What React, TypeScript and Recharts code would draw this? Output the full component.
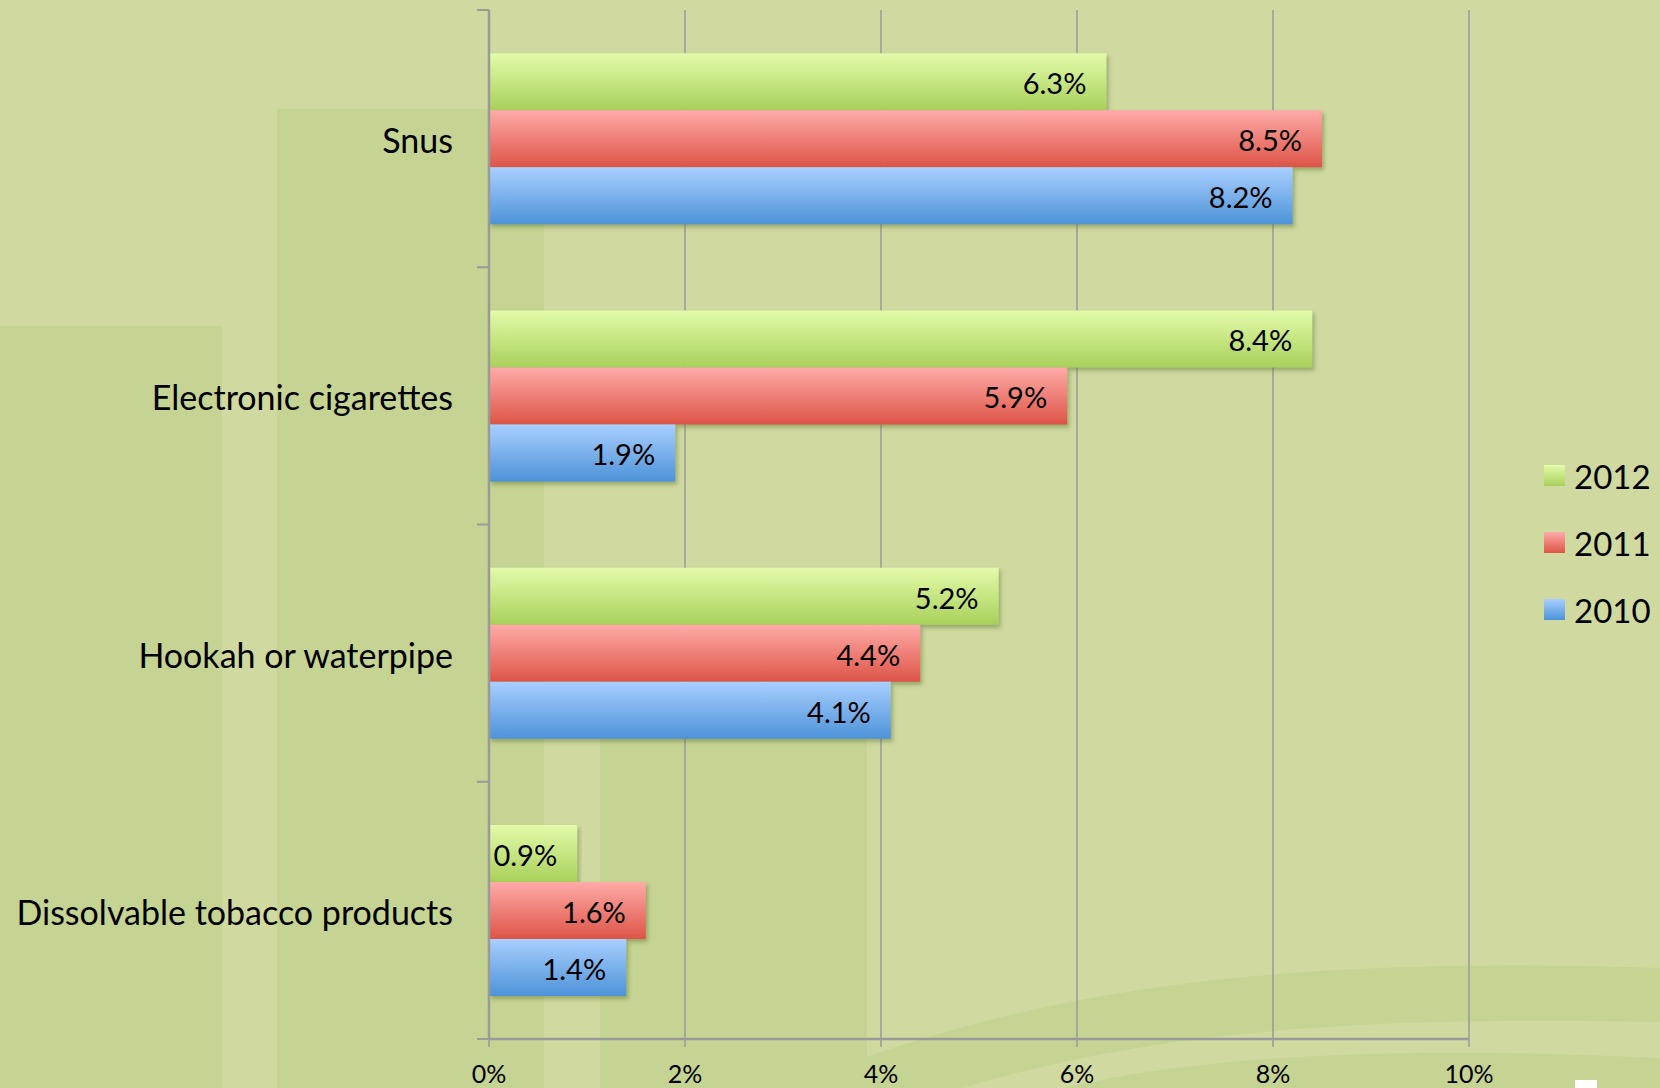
import React from 'react';
import {
  BarChart,
  Bar,
  XAxis,
  YAxis,
  CartesianGrid,
  LabelList,
} from 'recharts';

const categories = ['Snus', 'Electronic cigarettes', 'Hookah or waterpipe', 'Dissolvable tobacco products'];
const y2012 = [6.3, 8.4, 5.2, 0.9];
const y2011 = [8.5, 5.9, 4.4, 1.6];
const y2010 = [8.2, 1.9, 4.1, 1.4];
const xTicks = [0, 2, 4, 6, 8, 10];

const series = [
  { key: 'y2012', name: '2012', grad: 'gGreen', top: '#e3fbaa', bottom: '#a9d05b' },
  { key: 'y2011', name: '2011', grad: 'gRed', top: '#ffaba8', bottom: '#dd5447' },
  { key: 'y2010', name: '2010', grad: 'gBlue', top: '#a9cfff', bottom: '#4d93d8' },
];

const data = categories.map((c, i) => ({ cat: c, y2012: y2012[i], y2011: y2011[i], y2010: y2010[i] }));

const W = 1660;
const H = 1088;
const TOP = 10;
const X_AXIS_H = 49;
const Y_AXIS_W = 489;
const RIGHT = 191;
const PLOT_H = H - TOP - X_AXIS_H;
const bandHalf = PLOT_H / categories.length / 2;

const FONT = 'Lato, "Open Sans", sans-serif';
const GRAY = '#9a9a9a';
const BASE = '#cfd9a0';
const DARK = '#c5d492';

const YTick = (props: any) => {
  const { x, y, payload, index } = props;
  return (
    <g>
      <text x={x - 36} y={y + 1} textAnchor="end" dominantBaseline="central" fontSize={34} fontFamily={FONT} fill="#000">
        {payload.value}
      </text>
      <line x1={x - 12} x2={x} y1={y - bandHalf} y2={y - bandHalf} stroke={GRAY} strokeWidth={2} />
      {index === categories.length - 1 && (
        <line x1={x - 12} x2={x} y1={y + bandHalf} y2={y + bandHalf} stroke={GRAY} strokeWidth={2} />
      )}
    </g>
  );
};

const Background = () => (
  <svg width={W} height={H} style={{ position: 'absolute', left: 0, top: 0 }}>
    <rect x={0} y={0} width={W} height={H} fill={BASE} />
    <rect x={0} y={326} width={222} height={H - 326} fill={DARK} />
    <rect x={277} y={109} width={267} height={H - 109} fill={DARK} />
    <rect x={600} y={620} width={267} height={H - 620} fill={DARK} />
    <path d="M 867 1057 C 1100 975, 1350 958, 1660 968 L 1660 1088 L 867 1088 Z" fill={DARK} />
    <path d="M 962 1088 C 1150 1032, 1350 1016, 1660 1022 L 1660 1058 C 1400 1046, 1200 1055, 1064 1088 Z" fill={BASE} />
    <rect x={1575} y={1080} width={22} height={8} fill="#ffffff" />
  </svg>
);

const App = () => {
  return (
    <div style={{ position: 'absolute', left: 0, top: 0, width: W, height: H, overflow: 'hidden' }}>
      <Background />
      <div style={{ position: 'absolute', left: 0, top: 0 }}>
        <BarChart
          width={W}
          height={H}
          data={data}
          layout="vertical"
          margin={{ top: TOP, right: RIGHT, left: 0, bottom: 0 }}
          barCategoryGap="16.8%"
          barGap={0}
        >
          <defs>
            {series.map((s) => (
              <linearGradient key={s.grad} id={s.grad} x1="0" y1="0" x2="0" y2="1">
                <stop offset="0%" stopColor={s.top} />
                <stop offset="100%" stopColor={s.bottom} />
              </linearGradient>
            ))}
            <filter id="shadow" x="-5%" y="-20%" width="110%" height="150%">
              <feDropShadow dx={2} dy={3} stdDeviation={2} floodColor="#556b2f" floodOpacity={0.45} />
            </filter>
          </defs>
          <CartesianGrid horizontal={false} stroke={GRAY} strokeWidth={1.5} />
          <XAxis
            type="number"
            domain={[0, 10]}
            ticks={xTicks}
            height={X_AXIS_H}
            tickFormatter={(v) => `${v}%`}
            stroke={GRAY}
            axisLine={{ stroke: GRAY, strokeWidth: 2.5 }}
            tickLine={{ stroke: GRAY, strokeWidth: 1.5 }}
            tickSize={8}
            tickMargin={18}
            tick={{ fontSize: 25, fontFamily: FONT, fill: '#000' }}
          />
          <YAxis
            type="category"
            dataKey="cat"
            width={Y_AXIS_W}
            axisLine={{ stroke: GRAY, strokeWidth: 2.5 }}
            tickLine={false}
            tickSize={0}
            tickMargin={0}
            tick={<YTick />}
            interval={0}
          />
          {series.map((s) => (
            <Bar
              key={s.key}
              dataKey={s.key}
              name={s.name}
              fill={`url(#${s.grad})`}
              filter="url(#shadow)"
              isAnimationActive={false}
            >
              <LabelList
                dataKey={s.key}
                position="insideRight"
                offset={20}
                dy={2}
                formatter={(v: any) => `${Number(v).toFixed(1)}%`}
                style={{ fontSize: 29, fontFamily: FONT, fill: '#000' }}
              />
            </Bar>
          ))}
        </BarChart>
      </div>
      <div style={{ position: 'absolute', left: 1544, top: 442, fontFamily: FONT }}>
        {series.map((s) => (
          <div key={s.key} style={{ display: 'flex', alignItems: 'center', height: 67 }}>
            <div
              style={{
                width: 21,
                height: 21,
                marginRight: 9,
                background: `linear-gradient(${s.top}, ${s.bottom})`,
              }}
            />
            <span style={{ fontSize: 33, color: '#000', lineHeight: '36px' }}>{s.name}</span>
          </div>
        ))}
      </div>
    </div>
  );
};

export default App;
